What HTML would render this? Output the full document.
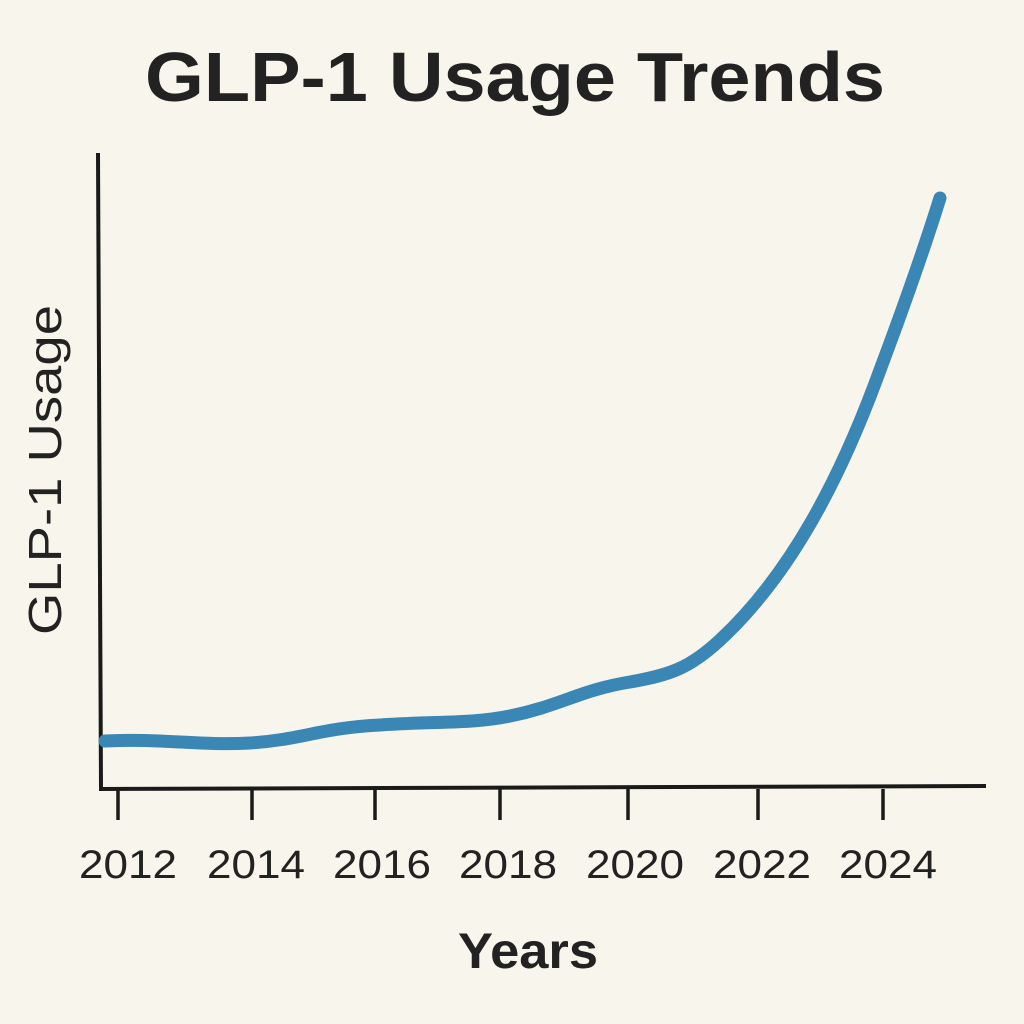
<!DOCTYPE html>
<html><head><style>
html,body{margin:0;padding:0;background:#f8f5ec;}
svg{display:block;}
</style></head><body>
<svg width="1024" height="1024" viewBox="0 0 1024 1024" xmlns="http://www.w3.org/2000/svg">
<rect width="1024" height="1024" fill="#f8f5ec"/>
<text x="515" y="101" text-anchor="middle" font-family="Liberation Sans, sans-serif" font-weight="bold" font-size="70" fill="#222" textLength="740" lengthAdjust="spacingAndGlyphs">GLP-1 Usage Trends</text>
<line x1="98" y1="153" x2="101" y2="790" stroke="#1a1a1a" stroke-width="4"/>
<line x1="99" y1="789" x2="986" y2="786" stroke="#1a1a1a" stroke-width="4"/>
<g stroke="#1a1a1a" stroke-width="3.5">
<line x1="118" y1="789" x2="118" y2="820"/>
<line x1="252" y1="789" x2="252" y2="820"/>
<line x1="375" y1="789" x2="375" y2="820"/>
<line x1="500" y1="789" x2="500" y2="820"/>
<line x1="628" y1="789" x2="628" y2="820"/>
<line x1="758" y1="789" x2="758" y2="820"/>
<line x1="883" y1="789" x2="883" y2="820"/>
</g>
<g font-family="Liberation Sans, sans-serif" font-size="40" fill="#222" text-anchor="middle">
<text x="128" y="878" textLength="98" lengthAdjust="spacingAndGlyphs">2012</text>
<text x="256" y="878" textLength="98" lengthAdjust="spacingAndGlyphs">2014</text>
<text x="382" y="878" textLength="98" lengthAdjust="spacingAndGlyphs">2016</text>
<text x="508" y="878" textLength="98" lengthAdjust="spacingAndGlyphs">2018</text>
<text x="635" y="878" textLength="98" lengthAdjust="spacingAndGlyphs">2020</text>
<text x="762" y="878" textLength="98" lengthAdjust="spacingAndGlyphs">2022</text>
<text x="888" y="878" textLength="98" lengthAdjust="spacingAndGlyphs">2024</text>
</g>
<text x="528" y="968" text-anchor="middle" font-family="Liberation Sans, sans-serif" font-weight="bold" font-size="50" fill="#222" textLength="140" lengthAdjust="spacingAndGlyphs">Years</text>
<text transform="translate(61,470) rotate(-90)" text-anchor="middle" font-family="Liberation Sans, sans-serif" font-size="46" fill="#222" textLength="330" lengthAdjust="spacingAndGlyphs">GLP-1 Usage</text>
<path d="M105,741 C160,738 200,746 250,743 C300,740 320,728 380,725 C440,721 470,724 510,716 C560,706 580,690 630,682 C670,675 690,668 720,640 C790,575 840,480 880,370 C910,290 930,230 940,198" fill="none" stroke="#3a86b5" stroke-width="13" stroke-linecap="round" stroke-linejoin="round"/>
</svg>
</body></html>
